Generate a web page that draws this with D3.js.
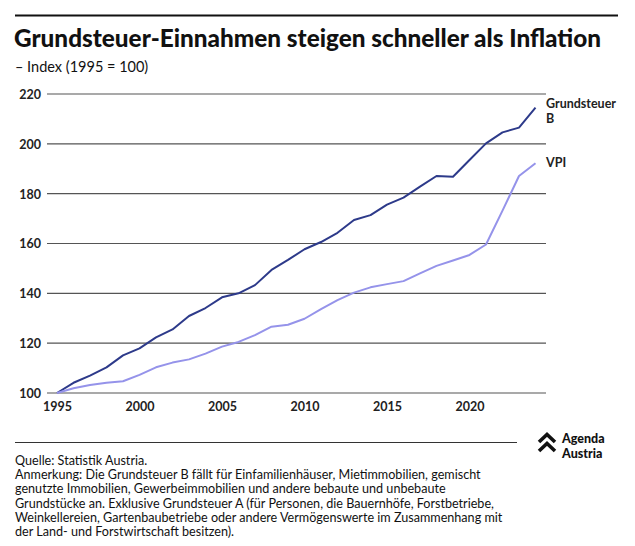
<!DOCTYPE html>
<html>
<head>
<meta charset="utf-8">
<script src="https://cdn.jsdelivr.net/npm/d3@7"></script>
<style>
  html, body { margin: 0; padding: 0; background: #fff; }
  svg { display: block; font-family: Lato, "Open Sans", sans-serif; }
</style>
</head>
<body>
<svg id="chart" width="635" height="546"></svg>
<script>
const years = d3.range(1995, 2025);
const grundsteuerB = [100, 104.1, 107, 110.3, 115.1, 117.9, 122.3, 125.5, 130.9, 134.1,
  138.4, 140, 143.3, 149.4, 153.4, 157.7, 160.6, 164.3, 169.4, 171.4,
  175.6, 178.4, 182.8, 187.1, 186.8, 193.5, 200.2, 204.6, 206.5, 214.5];
const vpi = [100, 101.9, 103.2, 104.1, 104.7, 107.3, 110.3, 112.2, 113.5, 115.8,
  118.6, 120.5, 123.2, 126.6, 127.4, 129.8, 133.7, 137.3, 140.3, 142.4,
  143.7, 144.9, 148, 151, 153.2, 155.4, 159.6, 173.2, 187.1, 192.2];
const yTicks = [100, 120, 140, 160, 180, 200, 220];
const xTicks = [1995, 2000, 2005, 2010, 2015, 2020];
const seriesNames = [["Grundsteuer", "B"], ["VPI"]];
const title = "Grundsteuer-Einnahmen steigen schneller als Inflation";
const subtitle = "\u2013 Index (1995 = 100)";
const footer = [
  "Quelle: Statistik Austria.",
  "Anmerkung: Die Grundsteuer B f\u00e4llt f\u00fcr Einfamilienh\u00e4user, Mietimmobilien, gemischt",
  "genutzte Immobilien, Gewerbeimmobilien und andere bebaute und unbebaute",
  "Grundst\u00fccke an. Exklusive Grundsteuer A (f\u00fcr Personen, die Bauernh\u00f6fe, Forstbetriebe,",
  "Weinkellereien, Gartenbaubetriebe oder andere Verm\u00f6genswerte im Zusammenhang mit",
  "der Land- und Forstwirtschaft besitzen)."
];

const svg = d3.select("#chart");
const x = d3.scaleLinear().domain([1995, 2024]).range([57, 535.5]);
const y = d3.scaleLinear().domain([100, 220]).range([393, 94]);
const colors = ["#2d3a8a", "#9593ea"];

// top rule
svg.append("line").attr("x1", 15).attr("x2", 618).attr("y1", 15.5).attr("y2", 15.5)
  .attr("stroke", "#111").attr("stroke-width", 2);

svg.append("text").attr("x", 14).attr("y", 47).text(title)
  .attr("font-size", 24.3).attr("font-weight", 900).attr("fill", "#111");
svg.append("text").attr("x", 15).attr("y", 72).text(subtitle)
  .attr("font-size", 14.5).attr("fill", "#111");

// gridlines
svg.append("g").selectAll("line").data(yTicks).join("line")
  .attr("x1", 47).attr("x2", 546)
  .attr("y1", d => y(d)).attr("y2", d => y(d))
  .attr("stroke", "#555").attr("stroke-width", 1.2);

// y axis labels
const yAxis = d3.axisLeft(y).tickValues(yTicks).tickSize(0).tickPadding(0);
const gy = svg.append("g").attr("transform", "translate(41,0)").call(yAxis);
gy.select(".domain").remove();
gy.selectAll("text").attr("font-family", "Lato, sans-serif").attr("font-size", 12.5)
  .attr("font-weight", 700).attr("fill", "#222").attr("dy", "0.35em");

// x axis labels
const xAxis = d3.axisBottom(x).tickValues(xTicks).tickFormat(d3.format("d")).tickSize(0).tickPadding(0);
const gx = svg.append("g").attr("transform", "translate(0,402)").call(xAxis);
gx.select(".domain").remove();
gx.selectAll("text").attr("font-family", "Lato, sans-serif").attr("font-size", 12.5)
  .attr("font-weight", 700).attr("fill", "#222").attr("dy", "0.71em");

// lines
const line = d3.line().x((d, i) => x(years[i])).y(d => y(d));
[grundsteuerB, vpi].forEach((s, k) => {
  svg.append("path").datum(s).attr("d", line).attr("fill", "none")
    .attr("stroke", colors[k]).attr("stroke-width", 2).attr("stroke-linejoin", "round");
});

// series labels
const lastG = grundsteuerB[grundsteuerB.length - 1];
const lastV = vpi[vpi.length - 1];
const lab = svg.append("g").attr("font-size", 12.5).attr("font-weight", 700).attr("fill", "#222");
lab.append("text").attr("x", 546).attr("y", y(lastG) - 0).text(seriesNames[0][0]);
lab.append("text").attr("x", 546).attr("y", y(lastG) + 15).text(seriesNames[0][1]);
lab.append("text").attr("x", 546).attr("y", y(lastV) + 4).text(seriesNames[1][0]);

// bottom rule
svg.append("line").attr("x1", 15).attr("x2", 517).attr("y1", 442.5).attr("y2", 442.5)
  .attr("stroke", "#333").attr("stroke-width", 1.2);

// footer
const ft = svg.append("g").attr("font-size", 12.6).attr("fill", "#111");
ft.selectAll("text").data(footer).join("text")
  .attr("x", 15).attr("y", (d, i) => 465 + i * 14.2).text(d => d);

// logo
const logo = svg.append("g").attr("transform", "translate(537,433)");
logo.append("path").attr("d", "M2,9 L10,1.5 L18,9").attr("fill", "none").attr("stroke", "#111")
  .attr("stroke-width", 3.6).attr("stroke-linejoin", "miter");
logo.append("path").attr("d", "M2,18 L10,10.5 L18,18").attr("fill", "none").attr("stroke", "#111")
  .attr("stroke-width", 3.6).attr("stroke-linejoin", "miter");
logo.append("text").attr("x", 25).attr("y", 10).text("Agenda")
  .attr("font-size", 12.5).attr("font-weight", 900).attr("fill", "#111");
logo.append("text").attr("x", 25).attr("y", 24.5).text("Austria")
  .attr("font-size", 12.5).attr("font-weight", 900).attr("fill", "#111");
</script>
</body>
</html>
